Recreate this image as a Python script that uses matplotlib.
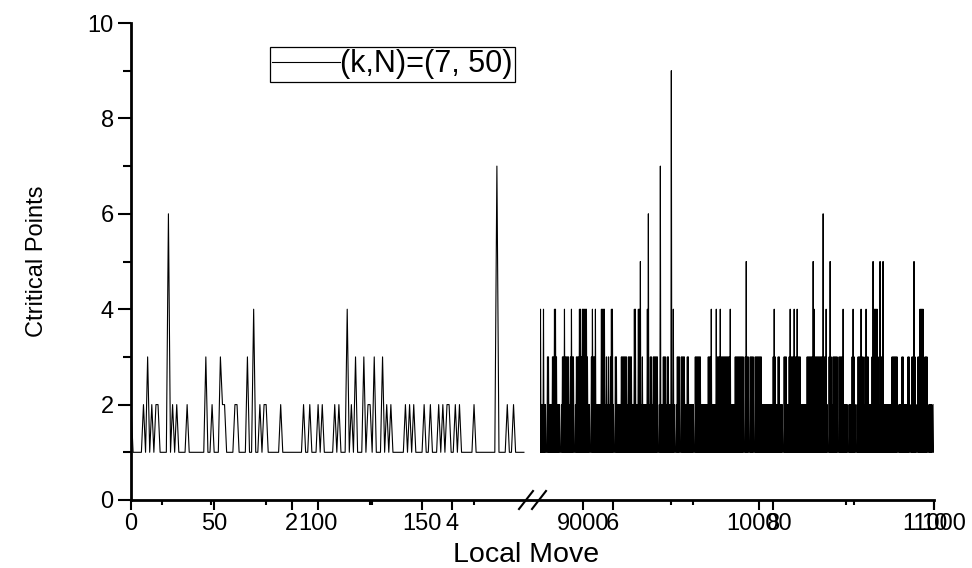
import numpy as np
import matplotlib
matplotlib.use('Agg')
import matplotlib.pyplot as plt

plt.rcParams['font.family'] = ['Liberation Sans', 'DejaVu Sans']

# ---- data -------------------------------------------------------------
# left part of the broken axis: one value per local move, moves 10 .. 199
left_moves = np.arange(10, 200)
left_points = [2, 1, 1, 1, 1, 1, 2, 1, 3, 1,
               2, 1, 2, 2, 1, 1, 1, 1, 6, 1,
               2, 1, 2, 1, 1, 1, 1, 2, 1, 1,
               1, 1, 1, 1, 1, 1, 3, 1, 1, 2,
               1, 1, 1, 3, 2, 2, 1, 1, 1, 1,
               2, 2, 1, 1, 1, 1, 3, 1, 1, 4,
               1, 1, 2, 1, 2, 2, 1, 1, 1, 1,
               1, 1, 2, 1, 1, 1, 1, 1, 1, 1,
               1, 1, 1, 2, 1, 1, 2, 1, 1, 1,
               2, 1, 2, 1, 1, 1, 1, 1, 2, 1,
               2, 1, 1, 1, 4, 1, 2, 1, 3, 1,
               1, 1, 3, 1, 2, 2, 1, 3, 1, 1,
               1, 3, 1, 2, 1, 2, 1, 1, 1, 1,
               1, 1, 2, 1, 2, 1, 2, 1, 1, 1,
               1, 2, 1, 1, 2, 1, 1, 1, 2, 1,
               2, 1, 2, 2, 1, 1, 2, 1, 2, 1,
               1, 1, 1, 1, 1, 2, 1, 1, 1, 1,
               1, 1, 1, 1, 1, 1, 7, 1, 1, 1,
               1, 2, 1, 1, 2, 1, 1, 1, 1, 1]

# right part (moves ~8752 .. 11000) is too dense to read move by move;
# read as peak value per screen column, every column starts from 1
right_start, right_end = 8752, 11000
right_peaks = ("4224221332" "2233443222" "1233433332" "3433123334"
               "4344444322" "1343342222" "2444423232" "3442133222"
               "2333333233" "3322442244" "5232222462" "3323333312"
               "7223332332" "2924212333" "1333322332" "2222133333"
               "3222222233" "3422224333" "4333333333" "4222233333"
               "3333135331" "3333133333" "3322222222" "2223432233"
               "2221333223" "4333433433" "3222222333" "3335433333"
               "3336334213" "5323333313" "3334222212" "2234321233"
               "3433234332" "2235444432" "5335222222" "2233333312"
               "2233222233" "1233532133" "4444233312" "22212")
right_low = 1

y_ticks = [0, 2, 4, 6, 8, 10]
y_minor = [1, 3, 5, 7, 9]
full_ticks = [0, 2, 4, 6, 8, 10]
full_minor = [1, 3, 7, 9]
left_ticks = [50, 100, 150]
left_minor = [25, 75, 125, 175]
right_ticks = [9000, 10000, 11000]
right_minor = [9500, 10500]

label = '(k,N)=(7, 50)'

# ---- layout -----------------------------------------------------------
W, H = 972, 568
fig = plt.figure(figsize=(W / 100, H / 100), dpi=100)


def rect(x0, x1, y0=23, y1=500):
    return [x0 / W, 1 - y1 / H, (x1 - x0) / W, (y1 - y0) / H]


ax0 = fig.add_axes(rect(131, 934))
ax1 = fig.add_axes(rect(131, 526), facecolor='none')
ax2 = fig.add_axes(rect(540, 934), facecolor='none')

tick_font = 17
for ax in (ax0, ax1, ax2):
    ax.set_ylim(0, 10)
    for s in ax.spines.values():
        s.set_visible(False)
    ax.tick_params(axis='x', which='major', direction='out', length=7,
                   width=1.5, labelsize=tick_font, pad=2.5)
    ax.tick_params(axis='x', which='minor', direction='out', length=3.5,
                   width=1.5)

ax0.spines['left'].set_visible(True)
ax0.spines['bottom'].set_visible(True)
ax0.spines['left'].set_linewidth(2)
ax0.spines['bottom'].set_linewidth(2)
ax0.set_xlim(0, 10)
ax0.set_xticks(full_ticks)
ax0.set_xticks(full_minor, minor=True)
ax0.set_yticks(y_ticks)
ax0.set_yticks(y_minor, minor=True)
ax0.tick_params(axis='y', which='major', direction='out', length=9.5,
                width=1.5, labelsize=tick_font, pad=3)
ax0.tick_params(axis='y', which='minor', direction='out', length=5.5,
                width=1.5)

ax1.set_xlim(10, 200)
ax1.set_xticks(left_ticks)
ax1.set_xticks(left_minor, minor=True)
ax1.set_yticks([])

ax2.set_xlim(right_start, right_end)
ax2.set_xticks(right_ticks)
ax2.set_xticks(right_minor, minor=True)
ax2.set_yticks([])

# ---- data lines ---------------------------------------------------------
line, = ax1.plot(left_moves, left_points, color='k', lw=0.8, label=label)

peaks = [int(c) for c in right_peaks]
right_vals = []
for p in peaks:
    right_vals += [right_low, p]
right_moves = np.linspace(right_start, right_end, len(right_vals))
ax2.plot(right_moves, right_vals, color='k', lw=0.8)

# ---- axis break marks ---------------------------------------------------
for cx in (526, 539):
    xa = [(cx - 7 - 131) / 803, (cx + 7 - 131) / 803]
    ya = [-9 / 477, 9 / 477]
    ax0.plot(xa, ya, color='k', lw=1.5, transform=ax0.transAxes,
             clip_on=False)

# ---- labels / legend ----------------------------------------------------
ax0.set_xlabel('Local Move', fontsize=20.5)
ax0.xaxis.set_label_coords((526.5 - 131) / 803, -42 / 477)
ax0.set_ylabel('Ctritical Points', fontsize=17)
ax0.yaxis.set_label_coords((48 - 131) / 803, 0.5)

leg = ax1.legend(handles=[line], loc='upper left',
                 bbox_to_anchor=(270 / W, 1 - 47 / H),
                 bbox_transform=fig.transFigure, fontsize=22,
                 frameon=True, fancybox=False, framealpha=1,
                 edgecolor='k', handlelength=2.2, handletextpad=0.0,
                 borderpad=0.08, borderaxespad=0)
leg.get_frame().set_linewidth(0.9)

fig.savefig('out.png', dpi=100)
